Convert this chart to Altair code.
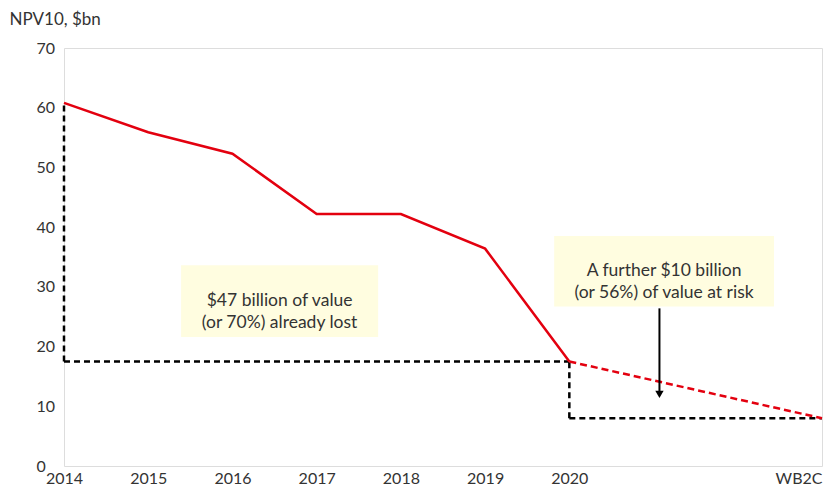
import altair as alt
import pandas as pd

# ---- data ----
categories = ["2014", "2015", "2016", "2017", "2018", "2019", "2020", "", "", "WB2C"]
hist_idx = [0, 1, 2, 3, 4, 5, 6]
hist_val = [60.8, 55.9, 52.3, 42.2, 42.2, 36.4, 17.5]
proj_idx = [6, 9]
proj_val = [17.5, 8.0]

# dashed black guide lines (x, x2, y, y2)
guide_x = [0, 0, 6, 6]
guide_x2 = [0, 6, 6, 9]
guide_y = [17.5, 17.5, 8.0, 8.0]
guide_y2 = [60.8, 17.5, 17.5, 8.0]

# annotation boxes
box_x = [1.39, 5.82]
box_x2 = [3.73, 8.43]
box_y = [21.6, 26.7]
box_y2 = [33.6, 38.5]

note1 = ["$47 billion of value", "(or 70%) already lost"]
note2 = ["A further $10 billion", "(or 56%) of value at risk"]

arrow_x = 7.07
arrow_y_top = 26.4
arrow_y_tip = 11.0

FONT = "Lato"
TXT = "#333333"
RED = "#E3000F"

hist = pd.DataFrame({"idx": hist_idx, "val": hist_val})
proj = pd.DataFrame({"idx": proj_idx, "val": proj_val})
guides = pd.DataFrame({"x": guide_x, "x2": guide_x2, "y": guide_y, "y2": guide_y2})
boxes = pd.DataFrame({"x": box_x, "x2": box_x2, "y": box_y, "y2": box_y2})
texts = pd.DataFrame({
    "x": [(box_x[0] + box_x2[0]) / 2, (box_x[1] + box_x2[1]) / 2],
    "y": [(box_y[0] + box_y2[0]) / 2, (box_y[1] + box_y2[1]) / 2],
    "t": [note1, note2],
})
arrow = pd.DataFrame({"x": [arrow_x], "y": [arrow_y_top], "y2": [arrow_y_tip + 1.0]})
tip = pd.DataFrame({"x": [arrow_x], "y": [arrow_y_tip + 1.0]})

label_expr = "[" + ",".join("'" + c + "'" for c in categories) + "][datum.value]"

xscale = alt.Scale(domain=[0, 9], nice=False, zero=False)
yscale = alt.Scale(domain=[0, 70], nice=False)

x_axis = alt.Axis(
    values=list(range(len(categories))), labelExpr=label_expr, title=None,
    domain=False, ticks=False, grid=False, labelPadding=4, tickSize=0,
    labelAlign=alt.expr("datum.value == 9 ? 'right' : 'center'"),
    labelFont=FONT, labelFontSize=16, labelColor=TXT, labelFlush=False,
)
y_axis = alt.Axis(
    values=list(range(0, 71, 10)), title="NPV10, $bn", titleAngle=0,
    titleAlign="left", titleBaseline="middle", titleX=-55, titleY=-29,
    titleFont=FONT, titleFontSize=17, titleFontWeight="normal", titleColor=TXT,
    domain=False, ticks=False, tickSize=0, grid=False, labelAlign="left",
    labelPadding=28, labelFont=FONT, labelFontSize=16, labelColor=TXT,
)

box_layer = alt.Chart(boxes).mark_rect(color="#FFFDE0").encode(
    x=alt.X("x:Q", scale=xscale, axis=x_axis), x2="x2:Q",
    y=alt.Y("y:Q", scale=yscale, axis=y_axis), y2="y2:Q",
)

guide_layer = alt.Chart(guides).mark_rule(
    color="black", strokeWidth=2.5, strokeDash=[6, 4]
).encode(x=alt.X("x:Q", scale=xscale), x2="x2:Q",
         y=alt.Y("y:Q", scale=yscale), y2="y2:Q")

hist_layer = alt.Chart(hist).mark_line(color=RED, strokeWidth=2.5).encode(
    x=alt.X("idx:Q", scale=xscale), y=alt.Y("val:Q", scale=yscale))

proj_layer = alt.Chart(proj).mark_line(color=RED, strokeWidth=2.5, strokeDash=[7, 4]).encode(
    x=alt.X("idx:Q", scale=xscale), y=alt.Y("val:Q", scale=yscale))

arrow_layer = alt.Chart(arrow).mark_rule(color="black", strokeWidth=2).encode(
    x=alt.X("x:Q", scale=xscale), y=alt.Y("y:Q", scale=yscale), y2="y2:Q")

tip_layer = alt.Chart(tip).mark_point(
    shape="triangle-down", filled=True, color="black", size=70, opacity=1
).encode(x=alt.X("x:Q", scale=xscale), y=alt.Y("y:Q", scale=yscale))

text_layer = alt.Chart(texts).mark_text(
    font=FONT, fontSize=17.5, color=TXT, lineHeight=22, baseline="middle", align="center"
).encode(x=alt.X("x:Q", scale=xscale), y=alt.Y("y:Q", scale=yscale), text="t")

chart = alt.layer(
    box_layer, guide_layer, hist_layer, proj_layer, arrow_layer, tip_layer, text_layer
).properties(
    width=758, height=418,
    autosize=alt.AutoSizeParams(type="none"),
    padding={"left": 56, "top": 40, "right": 1, "bottom": 26},
).configure_view(strokeWidth=0, stroke="transparent").configure(background="white")

chart.save("out.html", embed_options={"renderer": "svg", "actions": False})
